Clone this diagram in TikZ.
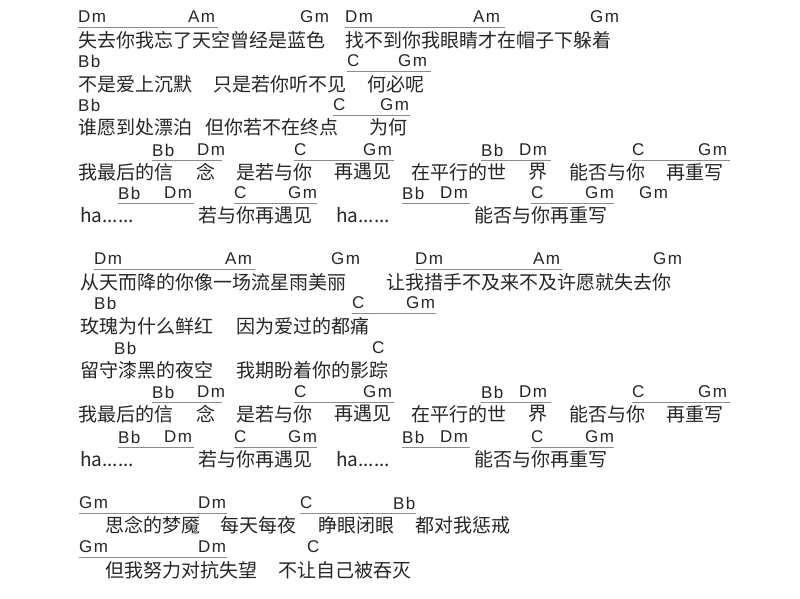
\documentclass[tikz,border=0pt]{standalone}
\usepackage{fontspec}
\setmainfont{Liberation Sans}
\newfontfamily\cjk{Noto Sans CJK SC}
\begin{document}
\begin{tikzpicture}[x=1pt,y=-1pt,
  chd/.style={anchor=west,inner sep=0pt,font=\addfontfeatures{LetterSpace=8}\fontsize{17}{17}\selectfont,text=black!85},
  lyr/.style={anchor=west,inner sep=0pt,font=\cjk\fontsize{19}{19}\selectfont,text=black!85},
  uline/.style={draw=black!45,line width=0.8pt}]
\useasboundingbox[fill=white] (0,0) rectangle (800,598);
\newcommand\mych[3]{\node[chd] at (#1,#2) {#3};}
\newcommand\myly[3]{\node[lyr] at (#1,#2) {#3};}
\newcommand\myul[3]{\draw[uline] (#1,#3+10) -- (#2,#3+10);}
% verse 1
\mych{78}{17}{Dm}\mych{188}{17}{Am}\mych{300}{17}{Gm}\mych{345}{17}{Dm}\mych{473}{17}{Am}\mych{590}{17}{Gm}
\myul{78}{218}{17}\myul{345}{505}{17}
\myly{78}{40}{失去你我忘了天空曾经是蓝色}\myly{345}{40}{找不到你我眼睛才在帽子下躲着}
\mych{78}{61}{Bb}\mych{347}{61}{C}\mych{398}{61}{Gm}\myul{347}{431}{61}
\myly{78}{84}{不是爱上沉默}\myly{213}{84}{只是若你听不见}\myly{367}{84}{何必呢}
\mych{78}{105}{Bb}\mych{333}{105}{C}\mych{380}{105}{Gm}\myul{333}{410}{105}
\myly{78}{127}{谁愿到处漂泊}\myly{205}{127}{但你若不在终点}\myly{369}{127}{为何}
% chorus
\newcommand\mychorus[2]{%
\mych{152}{#1}{Bb}\mych{197}{#1}{Dm}\myul{152}{222}{#1}
\mych{294}{#1}{C}\mych{363}{#1}{Gm}\myul{294}{394}{#1}
\mych{481}{#1}{Bb}\mych{519}{#1}{Dm}\myul{481}{551}{#1}
\mych{632}{#1}{C}\mych{698}{#1}{Gm}\myul{632}{730}{#1}
\myly{78}{#1+22}{我最后的信}\myly{196}{#1+22}{念}\myly{236}{#1+22}{是若与你}\myly{334}{#1+22}{再遇见}
\myly{411}{#1+22}{在平行的世}\myly{528}{#1+22}{界}\myly{569}{#1+22}{能否与你}\myly{666}{#1+22}{再重写}
\mych{118}{#2}{Bb}\mych{164}{#2}{Dm}\myul{118}{194}{#2}
\mych{234}{#2}{C}\mych{288}{#2}{Gm}\myul{234}{317}{#2}
\mych{402}{#2}{Bb}\mych{440}{#2}{Dm}\myul{402}{470}{#2}
\mych{531}{#2}{C}\mych{585}{#2}{Gm}\myul{531}{614}{#2}
\myly{80}{#2+22}{ha......}\myly{198}{#2+22}{若与你再遇见}\myly{336}{#2+22}{ha......}\myly{474}{#2+22}{能否与你再重写}}
\mychorus{150}{193}
\mych{639}{193}{Gm}
% verse 2
\mych{94}{259}{Dm}\mych{225}{259}{Am}\mych{331}{259}{Gm}\mych{415}{259}{Dm}\mych{533}{259}{Am}\mych{653}{259}{Gm}
\myul{94}{255}{259}\myul{415}{562}{259}
\myly{80}{282}{从天而降的你像一场流星雨美丽}\myly{386}{282}{让我措手不及来不及许愿就失去你}
\mych{94}{303}{Bb}\mych{352}{303}{C}\mych{406}{303}{Gm}\myul{352}{436}{303}
\myly{80}{326}{玫瑰为什么鲜红}\myly{236}{326}{因为爱过的都痛}
\mych{114}{348}{Bb}\mych{372}{348}{C}
\myly{80}{370}{留守漆黑的夜空}\myly{236}{370}{我期盼着你的影踪}
% chorus 2
\mychorus{392}{437}
% bridge
\mych{79}{503}{Gm}\mych{198}{503}{Dm}\mych{300}{503}{C}\mych{393}{503}{Bb}
\myul{79}{227}{503}\myul{300}{416}{503}
\myly{105}{525}{思念的梦魇}\myly{220}{525}{每天每夜}\myly{318}{525}{睁眼闭眼}\myly{415}{525}{都对我惩戒}
\mych{79}{547}{Gm}\mych{198}{547}{Dm}\mych{307}{547}{C}\myul{79}{227}{547}
\myly{105}{570}{但我努力对抗失望}\myly{278}{570}{不让自己被吞灭}
\end{tikzpicture}
\end{document}
